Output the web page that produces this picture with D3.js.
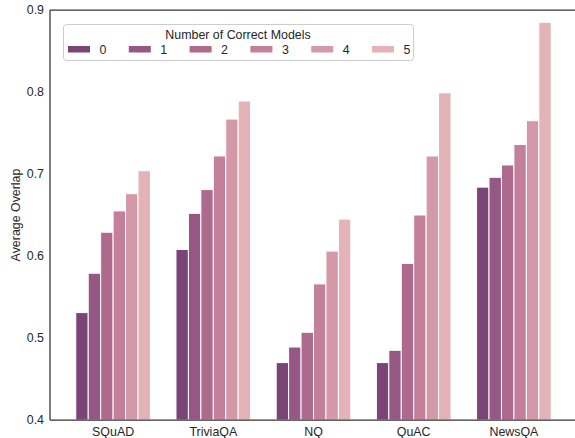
<!DOCTYPE html>
<html>
<head>
<meta charset="utf-8">
<script src="https://cdn.jsdelivr.net/npm/d3@7"></script>
<style>
  body { margin: 0; background: #fff; }
  svg { font-family: "Liberation Sans", Arial, sans-serif; }
</style>
</head>
<body>
<svg id="chart" width="575" height="438"></svg>
<script>
// data
const datasets = ["SQuAD", "TriviaQA", "NQ", "QuAC", "NewsQA"];
const correctModels = ["0", "1", "2", "3", "4", "5"];
const overlap0 = [0.531, 0.608, 0.470, 0.470, 0.684];
const overlap1 = [0.579, 0.652, 0.489, 0.485, 0.696];
const overlap2 = [0.629, 0.681, 0.507, 0.591, 0.711];
const overlap3 = [0.655, 0.722, 0.566, 0.650, 0.736];
const overlap4 = [0.676, 0.767, 0.606, 0.722, 0.765];
const overlap5 = [0.704, 0.789, 0.645, 0.799, 0.885];
const yTicks = [0.4, 0.5, 0.6, 0.7, 0.8, 0.9];

const series = [overlap0, overlap1, overlap2, overlap3, overlap4, overlap5];
const palette = ["#7a4576", "#955783", "#ad6a8d", "#c47f9b", "#d499a8", "#e3b3b7"];

const FONT = 12.4;
const svg = d3.select("#chart");
const left = 50;

// x: band per dataset, step ~100px, first centre at 113
const x = d3.scaleBand()
  .domain(datasets)
  .range([63, 564])
  .paddingInner(0)
  .paddingOuter(0);

const groupW = x.bandwidth() * 0.745;
const xHue = d3.scaleBand()
  .domain(correctModels)
  .range([0, groupW]);

const y = d3.scaleLinear()
  .domain([0.4, 0.9])
  .range([420, 10]);

const color = d3.scaleOrdinal().domain(correctModels).range(palette);

// bars
const rows = [];
datasets.forEach((ds, i) => {
  correctModels.forEach((m, j) => {
    rows.push({ds, m, value: series[j][i]});
  });
});

svg.append("g")
  .selectAll("rect")
  .data(rows)
  .join("rect")
  .attr("x", d => x(d.ds) + (x.bandwidth() - groupW) / 2 + xHue(d.m))
  .attr("y", d => y(d.value))
  .attr("width", xHue.bandwidth())
  .attr("height", d => y(0.4) - y(d.value))
  .attr("fill", d => color(d.m))
  .attr("stroke", "#fff")
  .attr("stroke-width", 1);

// axes
const yAxis = svg.append("g")
  .attr("transform", `translate(${left},0)`)
  .call(d3.axisLeft(y).tickValues(yTicks).tickSize(0).tickPadding(6).tickFormat(d3.format(".1f")));
yAxis.select(".domain").remove();
yAxis.selectAll("text").attr("font-size", FONT).attr("fill", "#262626").attr("font-family", "Liberation Sans, Arial, sans-serif");

const xAxis = svg.append("g")
  .attr("transform", `translate(0,420)`)
  .call(d3.axisBottom(x).tickSize(0).tickPadding(7));
xAxis.select(".domain").remove();
xAxis.selectAll("text").attr("font-size", FONT).attr("fill", "#262626").attr("font-family", "Liberation Sans, Arial, sans-serif");

// spines
svg.append("line").attr("x1", left).attr("x2", 575).attr("y1", 10).attr("y2", 10)
  .attr("stroke", "#333").attr("stroke-width", 1.25);
svg.append("line").attr("x1", left).attr("x2", 575).attr("y1", 420).attr("y2", 420)
  .attr("stroke", "#333").attr("stroke-width", 1.25);
svg.append("line").attr("x1", left).attr("x2", left).attr("y1", 10).attr("y2", 420)
  .attr("stroke", "#333").attr("stroke-width", 1.25);

// y label
svg.append("text")
  .attr("transform", "translate(20,215) rotate(-90)")
  .attr("text-anchor", "middle")
  .attr("font-size", FONT)
  .attr("fill", "#262626")
  .text("Average Overlap");

// legend
const legend = svg.append("g");
legend.append("rect")
  .attr("x", 63.5).attr("y", 24.5).attr("width", 350).attr("height", 36)
  .attr("rx", 3).attr("fill", "#fff").attr("fill-opacity", 0.8)
  .attr("stroke", "#cccccc").attr("stroke-width", 1);
legend.append("text")
  .attr("x", 238).attr("y", 38.5)
  .attr("text-anchor", "middle")
  .attr("font-size", FONT)
  .attr("fill", "#262626")
  .text("Number of Correct Models");

const entries = legend.selectAll("g.entry")
  .data(correctModels)
  .join("g")
  .attr("class", "entry")
  .attr("transform", (d, i) => `translate(${68 + i * 60.8},0)`);
entries.append("rect")
  .attr("x", 0).attr("y", 46).attr("width", 22).attr("height", 6.5)
  .attr("fill", d => color(d));
entries.append("text")
  .attr("x", 31.5).attr("y", 53.5)
  .attr("font-size", FONT)
  .attr("fill", "#262626")
  .text(d => d);
</script>
</body>
</html>
